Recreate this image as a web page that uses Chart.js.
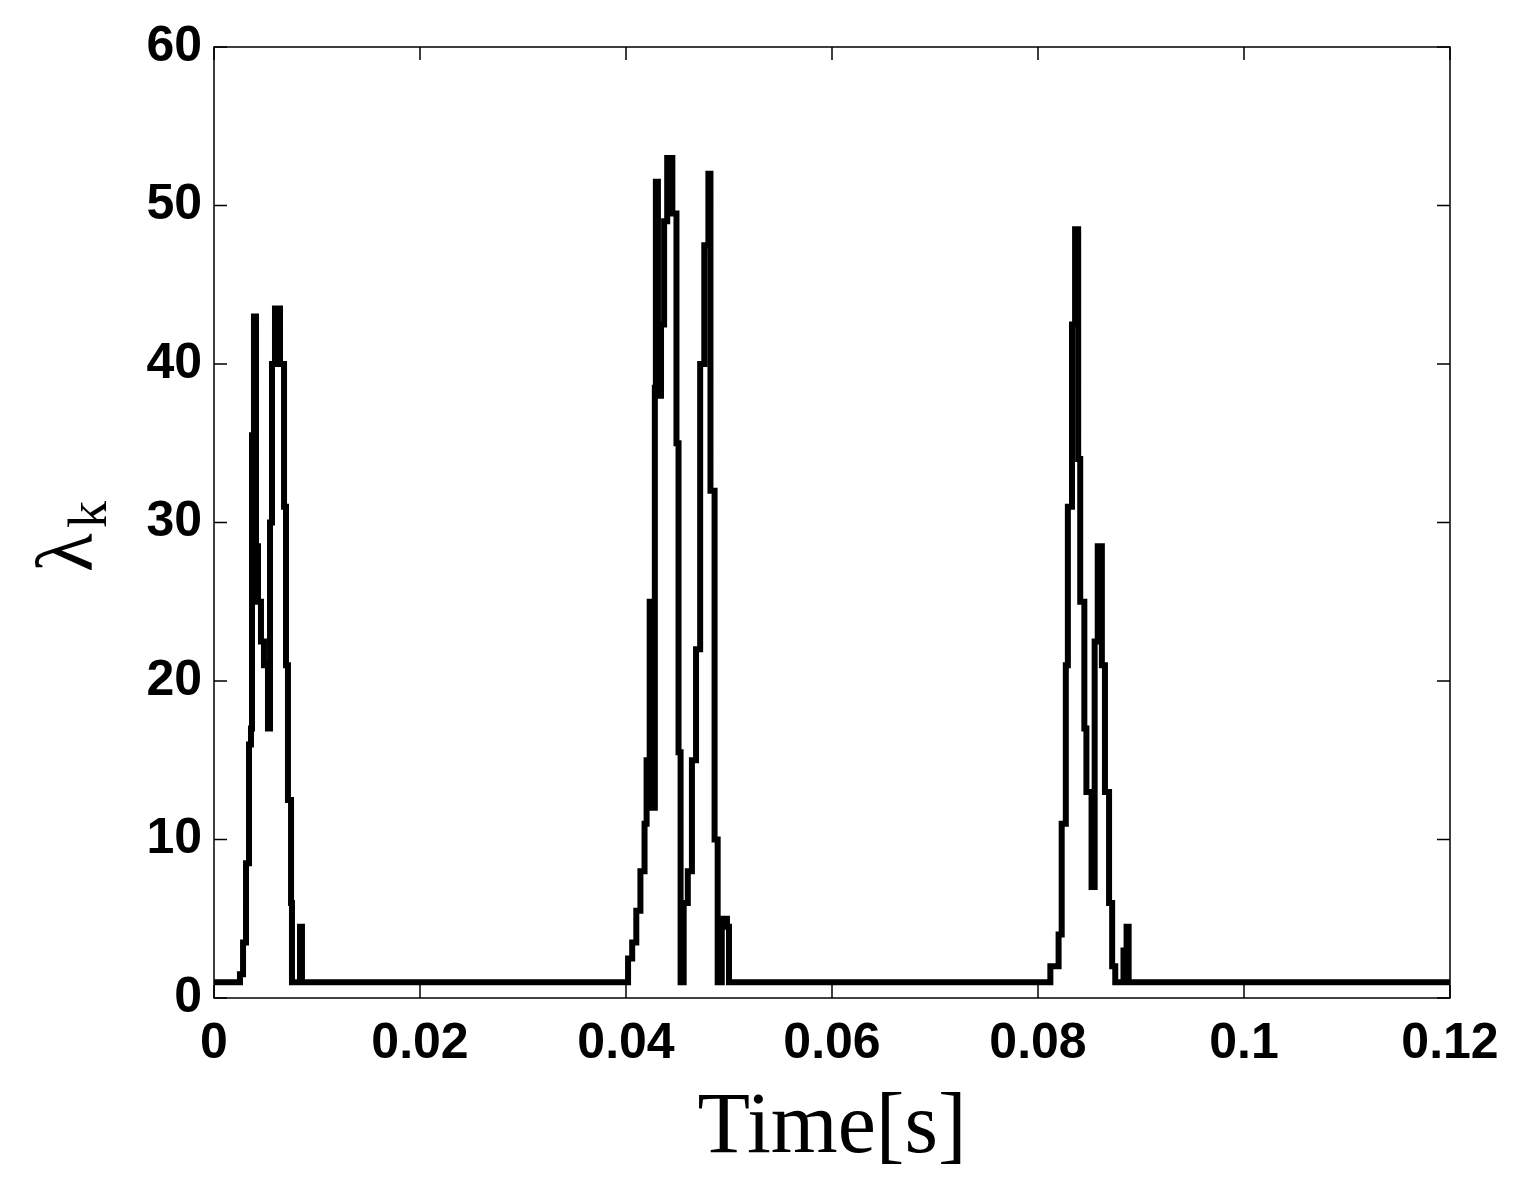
<!DOCTYPE html>
<html>
<head>
<meta charset="utf-8">
<script src="https://cdn.jsdelivr.net/npm/chart.js@4"></script>
<style>
  html, body { margin: 0; padding: 0; background: #fff; }
  #wrap { width: 1528px; height: 1179px; }
</style>
</head>
<body>
<div id="wrap"><canvas id="c"></canvas></div>
<script>
// time [s] and lambda_k values
const times = [
  0, 0.00233, 0.00252, 0.00282, 0.00311, 0.0034, 0.00359, 0.00369, 0.00388, 0.00408, 0.00427,
  0.00456, 0.00485, 0.00524, 0.00544, 0.00563, 0.00592, 0.00641, 0.0068, 0.00699, 0.00718,
  0.00748, 0.00757, 0.00816, 0.00835, 0.00854,
  0.0399, 0.0402, 0.0406, 0.041, 0.0414, 0.0418, 0.042, 0.0423, 0.0425, 0.0428, 0.0429, 0.0431,
  0.0434, 0.0437, 0.044, 0.0445, 0.0449, 0.0451, 0.0453, 0.0456, 0.046, 0.0464, 0.0468, 0.0472,
  0.0476, 0.048, 0.0482, 0.0486, 0.0489, 0.0493, 0.0498, 0.05,
  0.0802, 0.0812, 0.082, 0.0823, 0.0827, 0.0829, 0.0833, 0.0836, 0.0839, 0.0841, 0.0845, 0.0847,
  0.0852, 0.0855, 0.0858, 0.0862, 0.0865, 0.0869, 0.0872, 0.0875, 0.0882, 0.0883, 0.0886, 0.0888,
  0.12
];
const lambdaK = [
  1, 1, 1.5, 3.5, 8.5, 16, 17, 35.5, 43, 28.5, 25,
  22.5, 21, 17, 30, 40, 43.5, 40, 31, 21, 12.5,
  6, 1, 1, 4.5, 1,
  1, 2.5, 3.5, 5.5, 8, 11, 15, 25, 12, 38.5, 51.5, 38,
  42.5, 49, 53, 49.5, 35, 15.5, 1, 6, 8, 15, 22, 40,
  47.5, 52, 32, 10, 1, 5, 4.5, 1,
  1, 2, 4, 11, 21, 31, 42.5, 48.5, 34, 25, 17, 13,
  7, 22.5, 28.5, 21, 13, 6, 2, 1, 1, 3, 4.5, 1,
  1
];
const xTicks = [0, 0.02, 0.04, 0.06, 0.08, 0.1, 0.12];
const yTicks = [0, 10, 20, 30, 40, 50, 60];

const points = times.map((t, i) => ({ x: t, y: lambdaK[i] }));

// box, inward ticks and axis titles
const frame = {
  id: "frame",
  afterDraw(chart) {
    const { ctx, chartArea: a, scales: { x, y } } = chart;
    ctx.save();
    ctx.strokeStyle = "#000";
    ctx.lineWidth = 1.5;
    ctx.strokeRect(a.left, a.top, a.right - a.left, a.bottom - a.top);
    ctx.beginPath();
    xTicks.forEach(v => {
      const px = x.getPixelForValue(v);
      ctx.moveTo(px, a.bottom); ctx.lineTo(px, a.bottom - 13);
      ctx.moveTo(px, a.top); ctx.lineTo(px, a.top + 13);
    });
    yTicks.forEach(v => {
      const py = y.getPixelForValue(v);
      ctx.moveTo(a.left, py); ctx.lineTo(a.left + 13, py);
      ctx.moveTo(a.right, py); ctx.lineTo(a.right - 13, py);
    });
    ctx.stroke();

    ctx.fillStyle = "#000";
    ctx.font = "86px 'Liberation Serif', serif";
    ctx.textAlign = "center";
    ctx.textBaseline = "alphabetic";
    ctx.fillText("Time[s]", (a.left + a.right) / 2, 1152);

    ctx.translate(92, 522);
    ctx.rotate(-Math.PI / 2);
    ctx.textAlign = "left";
    ctx.font = "80px 'Liberation Serif', serif";
    ctx.fillText("λ", -50, 0);
    ctx.font = "54px 'Liberation Serif', serif";
    ctx.fillText("k", -6, 14);
    ctx.restore();
  }
};

new Chart(document.getElementById("c"), {
  type: "line",
  data: {
    datasets: [{
      data: points,
      borderColor: "#000",
      borderWidth: 6,
      pointRadius: 0,
      stepped: "before",
      fill: false
    }]
  },
  options: {
    responsive: true,
    maintainAspectRatio: false,
    animation: false,
    layout: { padding: { left: 0, top: 47, right: 78, bottom: 0 } },
    plugins: { legend: { display: false }, tooltip: { enabled: false } },
    scales: {
      x: {
        type: "linear",
        min: 0, max: 0.12,
        afterBuildTicks: s => { s.ticks = xTicks.map(v => ({ value: v })); },
        afterFit: s => { s.height = 181; },
        grid: { display: false, drawTicks: false },
        border: { display: false },
        ticks: {
          color: "#000",
          padding: 16,
          maxRotation: 0,
          font: { family: "'Liberation Sans', Arial, sans-serif", size: 50, weight: "bold" },
          callback: v => String(v)
        }
      },
      y: {
        min: 0, max: 60,
        afterBuildTicks: s => { s.ticks = yTicks.map(v => ({ value: v })); },
        afterFit: s => { s.width = 214; },
        grid: { display: false, drawTicks: false },
        border: { display: false },
        ticks: {
          color: "#000",
          padding: 12,
          font: { family: "'Liberation Sans', Arial, sans-serif", size: 50, weight: "bold" }
        }
      }
    }
  },
  plugins: [frame]
});
</script>
</body>
</html>
